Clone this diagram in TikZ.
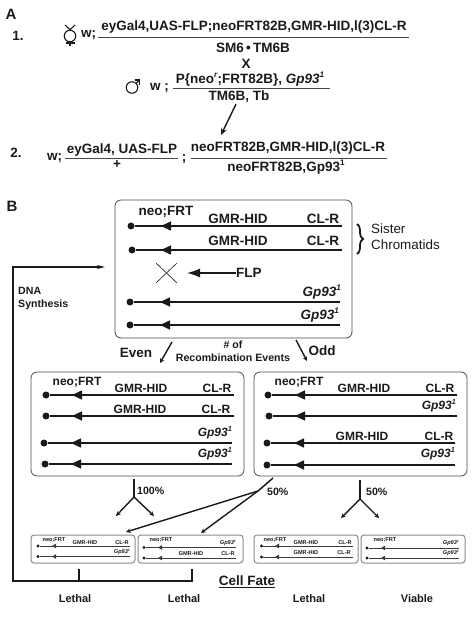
\documentclass[tikz,border=0pt]{standalone}
\usepackage{fontspec}
\setmainfont{Liberation Sans}
\usetikzlibrary{arrows.meta,decorations.pathreplacing}
\definecolor{cInk}{HTML}{1A1A1A}
\definecolor{cEdge}{HTML}{4A4A4A}
\definecolor{cSoft}{HTML}{8A8A8A}

\begin{document}
\begin{tikzpicture}[
  x=1pt, y=-1pt,
  font=\fontsize{13.5}{15}\selectfont\bfseries,
  txt/.style={text=cInk, inner sep=0pt},
  lab/.style={txt, font=\fontsize{12}{14}\selectfont\bfseries},
  sml/.style={txt, font=\fontsize{5.6}{7}\selectfont\bfseries},
  mid/.style={txt, font=\fontsize{10.6}{13}\selectfont\bfseries},
  fate/.style={txt, font=\fontsize{11}{13}\selectfont\bfseries},
  pan/.style={draw=cEdge, rounded corners=6pt, line width=.8pt},
  pansml/.style={draw=cSoft, rounded corners=3pt, line width=1pt},
  rule/.style={draw=cInk!80, line width=.8pt},
  sym/.style={line width=1.1pt, draw=cInk},
  flow/.style={-{Stealth[length=7pt,width=6pt]}, line width=1.4pt, draw=cInk},
  thin flow/.style={-{Stealth[length=4.5pt,width=4.5pt]}, line width=1.4pt, draw=cInk},
  arm/.style={line width=1.5pt, draw=cInk},
  tri/.style={-{Triangle[length=10pt,width=9pt]}, line width=1.5pt, draw=cInk},
  cen/.style={circle, fill=cInk, inner sep=0pt, minimum size=7pt},
  armsml/.style={line width=.9pt, draw=cInk!85},
  trismall/.style={-{Triangle[length=4pt,width=4.5pt]}, line width=.9pt, draw=cInk!85},
  censml/.style={circle, fill=cInk, inner sep=0pt, minimum size=3.2pt},
]
\useasboundingbox (0,0) rectangle (474,617);

% chromosome: name, dot x, arm tip x, end x, y
\newcommand{\chrom}[5]{%
  \node[cen] (#1c) at (#2,#5) {};
  \coordinate (#1t) at (#3,#5);
  \coordinate (#1e) at (#4,#5);
  \draw[arm] (#1e) -- (#1c);
  \draw[tri] (#1e) -- (#1t);}
\newcommand{\chromsml}[5]{%
  \node[censml] (#1c) at (#2,#5) {};
  \coordinate (#1t) at (#3,#5);
  \coordinate (#1e) at (#4,#5);
  \draw[armsml] (#1e) -- (#1c);
  \draw[trismall] (#1e) -- (#1t);}
\newcommand{\supone}{\raisebox{.42em}{\scalebox{.6}{1}}}
\newcommand{\gpa}{\textit{Gp93\supone}}

% ---------------- A: crosses ----------------
\node[txt, font=\fontsize{15}{17}\selectfont\bfseries] (lblA) at (11,14) {A};
\node[txt] (one) at (18,36) {1.};
\node[txt] (two) at (16,153) {2.};

% mother symbol
\node[circle, draw=cInk, line width=1.1pt, inner sep=0pt, minimum size=11.5pt] (fem) at (70,36) {};
\coordinate (femb) at (70,46.5);
\draw[sym] (65,25) -- (fem.north) -- (75,25);
\draw[sym] (fem.south) -- (femb);
\draw[sym] (65.5,43) -- (74.5,43);
\node[txt, anchor=west] (w1) at (81,35) {w;};
\coordinate (l1a) at (98,37.5);
\coordinate (l1b) at (409,37.5);
\draw[rule] (l1a) -- (l1b);
\node[txt] (p1top) at (254,27) {eyGal4,UAS-FLP;neoFRT82B,GMR-HID,l(3)CL-R};
\node[txt] (p1bot) at (253,48) {SM6{\,\raisebox{.5pt}{\textbullet}\,}TM6B};
\node[txt] (crossx) at (246,63.5) {X};

% father symbol
\node[circle, draw=cInk, line width=1.1pt, inner sep=0pt, minimum size=11.5pt] (mal) at (132,87.5) {};
\coordinate (malt) at (139.5,80);
\draw[sym] (mal) ++(4,-4) -- (malt);
\draw[sym] (134.5,80) -- (malt) -- (139.5,85);
\node[txt, anchor=west] (w2) at (150,88) {w ;};
\coordinate (l2a) at (173,88.5);
\coordinate (l2b) at (330,88.5);
\draw[rule] (l2a) -- (l2b);
\node[txt] (p2top) at (250,79) {P\{neo\raisebox{.42em}{\scalebox{.6}{\textit{r}}};FRT82B\}, \gpa};
\node[txt] (p2bot) at (239,97) {TM6B, Tb};
\coordinate (dn) at (221,135);
\draw[flow] (p2bot.south) ++(-3,1) -- (dn);

\node[txt, anchor=west] (w3) at (47,158) {w;};
\coordinate (l3a) at (65,158);
\coordinate (l3b) at (178,158);
\draw[rule] (l3a) -- (l3b);
\node[txt] (g2top) at (122,150.5) {eyGal4, UAS-FLP};
\node[txt] (g2bot) at (117,164.5) {+};
\node[txt] (semi) at (184,159.5) {;};
\coordinate (l4a) at (191,158);
\coordinate (l4b) at (387,158);
\draw[rule] (l4a) -- (l4b);
\node[txt] (g3top) at (288,148.5) {neoFRT82B,GMR-HID,l(3)CL-R};
\node[txt] (g3bot) at (286,167) {neoFRT82B,Gp93\supone};

% ---------------- B: top panel ----------------
\node[txt, font=\fontsize{15}{17}\selectfont\bfseries] (lblB) at (12,206) {B};
\node[pan, minimum width=237pt, minimum height=138pt, inner sep=0pt] (topbox) at (233.5,269) {};
\node[txt] (tneo) at (166,212) {neo;FRT};
\node[txt] (tg1) at (238,219) {GMR-HID};
\node[txt] (tc1) at (323,219) {CL-R};
\node[txt] (tg2) at (238,241) {GMR-HID};
\node[txt] (tc2) at (323,241) {CL-R};
\chrom{ta}{131}{161}{342}{226}
\chrom{tb}{132}{161}{342}{250}
\chrom{tc}{130}{160}{340}{302}
\chrom{td}{130}{160}{340}{325}
\node[txt, anchor=east] (tp1) at (341,292) {\gpa};
\node[txt, anchor=east] (tp2) at (339,315) {\gpa};

% sister chromatids
\coordinate (bra) at (357,224);
\coordinate (brb) at (357,254);
\draw[decorate, decoration={brace, amplitude=6pt}, line width=1.8pt, draw=cInk] (bra) -- (brb);
\node[txt, anchor=west, align=left, font=\fontsize{13.4}{16}\selectfont] (sis) at (371,237) {Sister\\Chromatids};

% FLP
\coordinate (xa) at (156,263);
\coordinate (xb) at (177,283);
\coordinate (xc) at (177,263);
\coordinate (xd) at (156,283);
\draw[draw=cInk, line width=.6pt] (xa) -- (xb) (xc) -- (xd);
\node[txt, anchor=west] (flp) at (236,273) {FLP};
\coordinate (flpt) at (187,273);
\draw[-{Latex[length=13pt,width=9pt]}, line width=1.3pt, draw=cInk] (flp.west) -- (flpt);

% DNA synthesis loop
\node[mid, anchor=west, align=left] (dna) at (18,298.5) {DNA\\Synthesis};
\coordinate (loopa) at (105,267);
\coordinate (loopb) at (13,267);
\coordinate (loopc) at (13,581);
\coordinate (loopd) at (192,581);
\coordinate (loope) at (192,569);
\coordinate (ticka) at (79,569);
\coordinate (tickb) at (79,581);
\draw[-{Stealth[length=8pt,width=4pt]}, line width=1.4pt, draw=cInk]
  (loope) -- (loopd) -- (loopc) -- (loopb) -- (loopa);
\draw[line width=1.4pt, draw=cInk] (ticka) -- (tickb);

% even / odd
\node[txt] (even) at (136,353) {Even};
\node[txt] (odd) at (322,351) {Odd};
\node[mid, align=center] (recomb) at (233,351.5) {\# of\\Recombination Events};
\coordinate (eva) at (172,342);
\coordinate (evb) at (160,363);
\coordinate (oda) at (296,340);
\coordinate (odb) at (307,361);
\draw[thin flow] (eva) -- (evb);
\draw[thin flow] (oda) -- (odb);

% ---------------- middle panels ----------------
\node[pan, minimum width=213pt, minimum height=104pt, inner sep=0pt] (lbox) at (137.5,424) {};
\node[pan, minimum width=213pt, minimum height=104pt, inner sep=0pt] (rbox) at (360.5,424) {};

\node[lab] (lneo) at (77,382) {neo;FRT};
\node[lab] (lg1) at (141,388) {GMR-HID};
\node[lab] (lc1) at (217,388) {CL-R};
\node[lab] (lg2) at (140,409) {GMR-HID};
\node[lab] (lc2) at (216,409) {CL-R};
\node[lab, anchor=east] (lp1) at (232,433) {\gpa};
\node[lab, anchor=east] (lp2) at (232,454) {\gpa};
\chrom{la}{46}{72}{234}{395}
\chrom{lb}{46}{72}{234}{416}
\chrom{lc}{44}{71}{232}{443}
\chrom{ld}{45}{71}{232}{464}

\node[lab] (rneo) at (299,382) {neo;FRT};
\node[lab] (rg1) at (364,388) {GMR-HID};
\node[lab] (rc1) at (440,388) {CL-R};
\node[lab, anchor=east] (rp1) at (456,406) {\gpa};
\node[lab] (rg2) at (362,436) {GMR-HID};
\node[lab] (rc2) at (439,436) {CL-R};
\node[lab, anchor=east] (rp2) at (455,454) {\gpa};
\chrom{ra}{268}{295}{457}{395}
\chrom{rb}{269}{295}{457}{416}
\chrom{rc}{267}{294}{455}{443}
\chrom{rd}{267}{294}{455}{465}

% ---------------- forks ----------------
\newcommand{\fork}[7]{%
  \coordinate (#1a) at (#2,#3);
  \coordinate (#1b) at (#2,#4);
  \coordinate (#1l) at (#5,#7);
  \coordinate (#1r) at (#6,#7);
  \draw[arm] (#1a) -- (#1b);
  \draw[thin flow] (#1b) -- (#1l);
  \draw[thin flow] (#1b) -- (#1r);}
\fork{fa}{134}{479}{497}{116}{154}{516}
\fork{fb}{360}{480}{499}{341}{379}{518}
\node[mid, anchor=west] (pa) at (137,491) {100\%};
\node[mid, anchor=west] (pb) at (267,492) {50\%};
\node[mid, anchor=west] (pc) at (366,492) {50\%};

% ---------------- small panels ----------------
\node[pansml, minimum width=104pt, minimum height=28pt, inner sep=0pt] (boxa) at (83,549) {};
\node[pansml, minimum width=105pt, minimum height=28pt, inner sep=0pt] (boxb) at (190.5,549) {};
\node[pansml, minimum width=104pt, minimum height=28pt, inner sep=0pt] (boxc) at (306,549) {};
\node[pansml, minimum width=104pt, minimum height=28pt, inner sep=0pt] (boxd) at (413,549) {};

\coordinate (mida) at (273,478);
\coordinate (midb) at (258,491);
\coordinate (midc) at (126,532);
\coordinate (midd) at (201,533);
\draw[arm] (mida) -- (midb);
\draw[thin flow] (midb) -- (midc);
\draw[thin flow] (midb) -- (midd);

\node[sml] (ane) at (54,540) {neo;FRT};
\node[sml] (agm) at (85,543) {GMR-HID};
\node[sml] (acl) at (122,543) {CL-R};
\node[sml, anchor=east] (agp) at (130,552) {\gpa};
\chromsml{aa}{38}{52}{130}{546}
\chromsml{ab}{38}{52}{130}{556.5}

\node[sml] (bne) at (161,540) {neo;FRT};
\node[sml, anchor=east] (bgp) at (236,543) {\gpa};
\node[sml] (bgm) at (191,554) {GMR-HID};
\node[sml] (bcl) at (228,554) {CL-R};
\chromsml{ba}{144}{158}{236}{547.5}
\chromsml{bb}{144}{158}{236}{558}

\node[sml] (cne) at (275,540) {neo;FRT};
\node[sml] (cgm) at (306,543) {GMR-HID};
\node[sml] (ccl) at (345,543) {CL-R};
\node[sml] (cgn) at (306,553) {GMR-HID};
\node[sml] (ccn) at (344,553) {CL-R};
\chromsml{ca}{261.5}{275}{353}{546}
\chromsml{cb}{261.5}{275}{353}{557}

\node[sml] (dne) at (385,540) {neo;FRT};
\node[sml, anchor=east] (dgp) at (459,543) {\gpa};
\node[sml, anchor=east] (dgq) at (459,553) {\gpa};
\chromsml{da}{367}{381}{459}{548}
\chromsml{db}{367}{381}{459}{558}

% ---------------- cell fate ----------------
\node[txt] (fatelbl) at (247,582) {\underline{Cell Fate}};
\node[fate] (fa1) at (75,599) {Lethal};
\node[fate] (fa2) at (184,599) {Lethal};
\node[fate] (fa3) at (309,599) {Lethal};
\node[fate] (fa4) at (417,599) {Viable};

\end{tikzpicture}
\end{document}
